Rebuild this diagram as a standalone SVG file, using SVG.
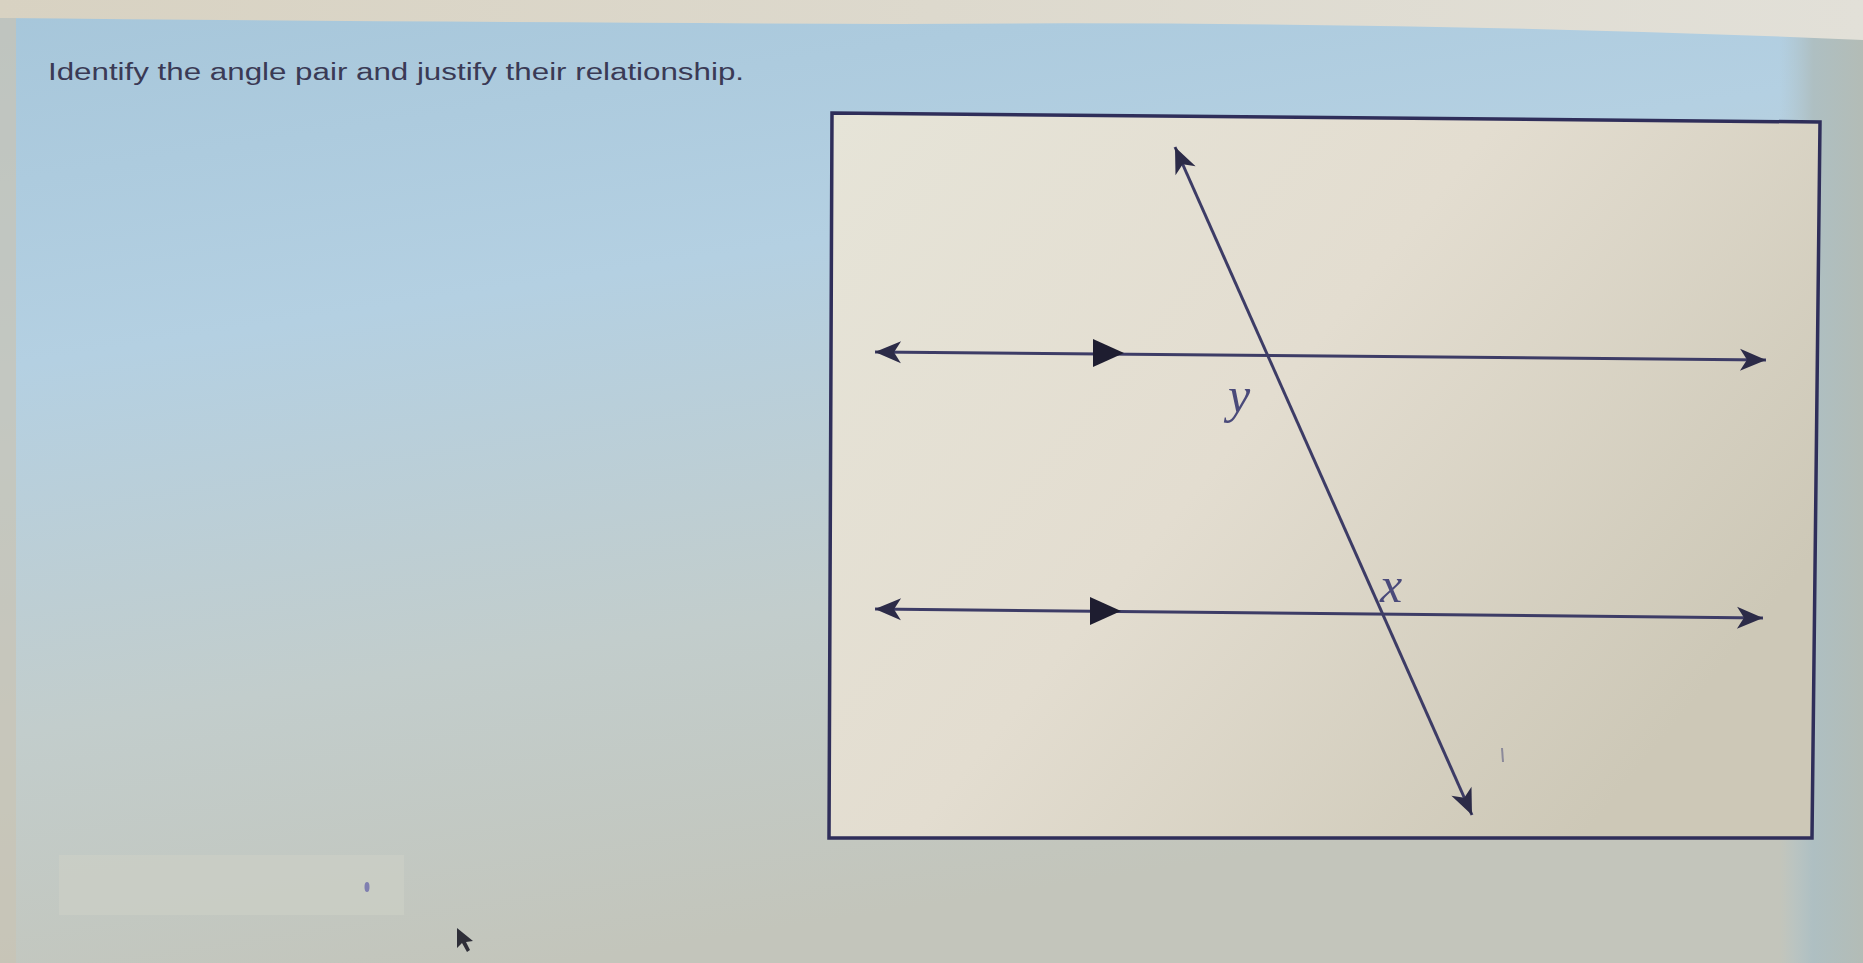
<svg xmlns="http://www.w3.org/2000/svg" width="1863" height="963" viewBox="0 0 1863 963">
<defs>
<linearGradient id="bg" x1="0" y1="0" x2="0.3" y2="1">
<stop offset="0" stop-color="#a6c6da"/>
<stop offset="0.35" stop-color="#b4d0e2"/>
<stop offset="0.7" stop-color="#c2cdcc"/>
<stop offset="1" stop-color="#c3c5bb"/>
</linearGradient>
<linearGradient id="bgr" x1="0" y1="0" x2="1" y2="0">
<stop offset="0" stop-color="#b0c4cc" stop-opacity="0"/>
<stop offset="0.4" stop-color="#aebfc2"/>
<stop offset="1" stop-color="#b3bcb6"/>
</linearGradient>
<linearGradient id="panel" x1="0" y1="0" x2="1" y2="0.6">
<stop offset="0" stop-color="#e6e4d8"/>
<stop offset="0.5" stop-color="#e3ddd0"/>
<stop offset="1" stop-color="#cdc8b7"/>
</linearGradient>
<linearGradient id="topstrip" x1="0" y1="0" x2="1" y2="0">
<stop offset="0" stop-color="#d8d2c2"/>
<stop offset="1" stop-color="#e2e0d8"/>
</linearGradient>
<marker id="arr" viewBox="-28 -13 30 26" refX="0" refY="0" markerWidth="30" markerHeight="26" markerUnits="userSpaceOnUse" orient="auto-start-reverse">
<path d="M0,0 L-26,-11 L-19,0 L-26,11 Z" fill="#2c2b48"/>
</marker>
<style>
.ln{stroke:#3d3c66;stroke-width:3;fill:none}
.tri{fill:#1e1d30}
.lbl{font-family:"Liberation Serif",serif;font-style:italic;font-size:50px;fill:#4a4a7a}
.q{font-family:"Liberation Sans",Arial,sans-serif;font-size:23px;fill:#3a3a55}
</style>
</defs>
<rect x="0" y="0" width="1863" height="963" fill="url(#bg)"/>
<rect x="1780" y="0" width="83" height="963" fill="url(#bgr)"/>
<path d="M0,0 H1863 V40 Q1400,20 900,24 Q400,22 0,18 Z" fill="url(#topstrip)"/>
<rect x="0" y="18" width="16" height="945" fill="#c9c3b3" opacity="0.7"/>
<rect x="59" y="855" width="345" height="60" fill="#cdd0c6" opacity="0.6"/>
<ellipse cx="367" cy="887" rx="2.5" ry="5" fill="#7f7fb0"/>
<path d="M457,928 L457,948 L462,943 L467,952 L470,950 L466,942 L473,941 Z" fill="#2e2e38"/>
<text class="q" x="48" y="80" textLength="696" lengthAdjust="spacingAndGlyphs">Identify the angle pair and justify their relationship.</text>
<g id="panel-box">
<path d="M832,113 L1820,122 L1812,838 L829,838 Z" fill="url(#panel)" stroke="#2f2e5a" stroke-width="3.5"/>
</g>
<g id="connectors">
<line id="line-top" class="ln" x1="875" y1="352" x2="1766" y2="360" marker-start="url(#arr)" marker-end="url(#arr)"/>
<line id="line-bottom" class="ln" x1="875" y1="609" x2="1763" y2="618" marker-start="url(#arr)" marker-end="url(#arr)"/>
<line id="transversal" class="ln" x1="1175" y1="147" x2="1472" y2="815" marker-start="url(#arr)" marker-end="url(#arr)"/>
</g>
<g id="parallel-mark-top">
<path class="tri" d="M1093,339 L1124,353 L1093,367 Z"/>
</g>
<g id="parallel-mark-bottom">
<path class="tri" d="M1090,597 L1121,611 L1090,625 Z"/>
</g>
<g id="label-y"><text class="lbl" x="1228" y="412">y</text></g>
<g id="label-x"><text class="lbl" x="1380" y="602">x</text></g>
<path d="M1502,748 L1503,762" stroke="#8c8a9a" stroke-width="2"/>
</svg>
